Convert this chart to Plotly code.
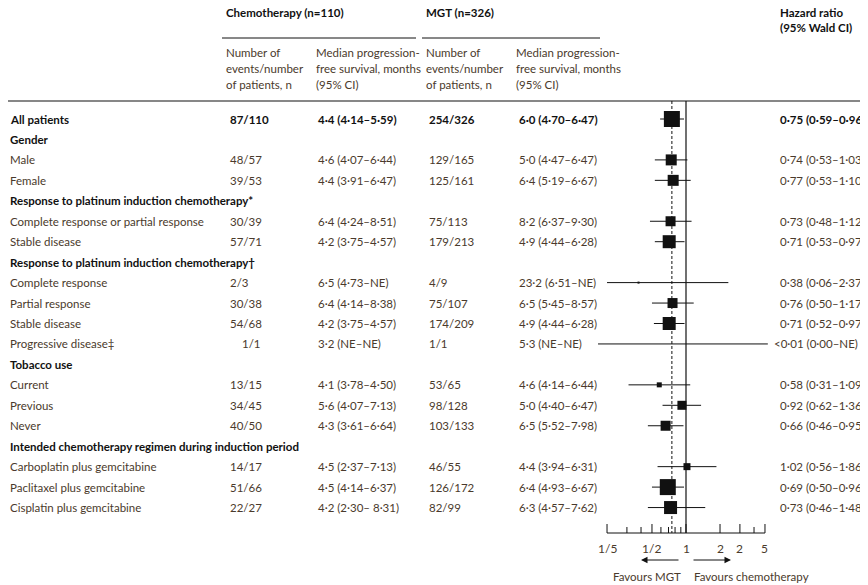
import math
import plotly.graph_objs as go

W, H = 868, 585
OFF = 8  # page body margin in the browser
FONT = 'Lato'
BODY = '#4a3a2c'

# table rows
labels = ['All patients', 'Gender', 'Male', 'Female',
          'Response to platinum induction chemotherapy*',
          'Complete response or partial response', 'Stable disease',
          'Response to platinum induction chemotherapy\u2020',
          'Complete response', 'Partial response', 'Stable disease', 'Progressive disease\u2021',
          'Tobacco use', 'Current', 'Previous', 'Never',
          'Intended chemotherapy regimen during induction period',
          'Carboplatin plus gemcitabine', 'Paclitaxel plus gemcitabine', 'Cisplatin plus gemcitabine']
bold_rows = [0, 1, 4, 7, 12, 16]
chemo_n = ['87/110', '', '48/57', '39/53', '', '30/39', '57/71', '', '2/3', '30/38', '54/68', '1/1',
           '', '13/15', '34/45', '40/50', '', '14/17', '51/66', '22/27']
chemo_pfs = ['4\u00b74 (4\u00b714\u20135\u00b759)', '', '4\u00b76 (4\u00b707\u20136\u00b744)',
             '4\u00b74 (3\u00b791\u20136\u00b747)', '', '6\u00b74 (4\u00b724\u20138\u00b751)',
             '4\u00b72 (3\u00b775\u20134\u00b757)', '', '6\u00b75 (4\u00b773\u2013NE)',
             '6\u00b74 (4\u00b714\u20138\u00b738)', '4\u00b72 (3\u00b775\u20134\u00b757)',
             '3\u00b72 (NE\u2013NE)', '', '4\u00b71 (3\u00b778\u20134\u00b750)',
             '5\u00b76 (4\u00b707\u20137\u00b713)', '4\u00b73 (3\u00b761\u20136\u00b764)', '',
             '4\u00b75 (2\u00b737\u20137\u00b713)', '4\u00b75 (4\u00b714\u20136\u00b737)',
             '4\u00b72 (2\u00b730\u2013 8\u00b731)']
mgt_n = ['254/326', '', '129/165', '125/161', '', '75/113', '179/213', '', '4/9', '75/107', '174/209',
         '1/1', '', '53/65', '98/128', '103/133', '', '46/55', '126/172', '82/99']
mgt_pfs = ['6\u00b70 (4\u00b770\u20136\u00b747)', '', '5\u00b70 (4\u00b747\u20136\u00b747)',
           '6\u00b74 (5\u00b719\u20136\u00b767)', '', '8\u00b72 (6\u00b737\u20139\u00b730)',
           '4\u00b79 (4\u00b744\u20136\u00b728)', '', '23\u00b72 (6\u00b751\u2013NE)',
           '6\u00b75 (5\u00b745\u20138\u00b757)', '4\u00b79 (4\u00b744\u20136\u00b728)',
           '5\u00b73 (NE\u2013NE)', '', '4\u00b76 (4\u00b714\u20136\u00b744)',
           '5\u00b70 (4\u00b740\u20136\u00b747)', '6\u00b75 (5\u00b752\u20137\u00b798)', '',
           '4\u00b74 (3\u00b794\u20136\u00b731)', '6\u00b74 (4\u00b793\u20136\u00b767)',
           '6\u00b73 (4\u00b757\u20137\u00b762)']
hr_text = ['0\u00b775 (0\u00b759\u20130\u00b796)', '', '0\u00b774 (0\u00b753\u20131\u00b703)',
           '0\u00b777 (0\u00b753\u20131\u00b710)', '', '0\u00b773 (0\u00b748\u20131\u00b712)',
           '0\u00b771 (0\u00b753\u20130\u00b797)', '', '0\u00b738 (0\u00b706\u20132\u00b737)',
           '0\u00b776 (0\u00b750\u20131\u00b717)', '0\u00b771 (0\u00b752\u20130\u00b797)',
           '<0\u00b701 (0\u00b700\u2013NE)', '', '0\u00b758 (0\u00b731\u20131\u00b709)',
           '0\u00b792 (0\u00b762\u20131\u00b736)', '0\u00b766 (0\u00b746\u20130\u00b795)', '',
           '1\u00b702 (0\u00b756\u20131\u00b786)', '0\u00b769 (0\u00b750\u20130\u00b796)',
           '0\u00b773 (0\u00b746\u20131\u00b748)']
hr = [0.75, None, 0.74, 0.77, None, 0.73, 0.71, None, 0.38, 0.76, 0.71, 0.005,
      None, 0.58, 0.92, 0.66, None, 1.02, 0.69, 0.73]
hr_lo = [0.59, None, 0.53, 0.53, None, 0.48, 0.53, None, 0.06, 0.50, 0.52, 0.001,
         None, 0.31, 0.62, 0.46, None, 0.56, 0.50, 0.46]
hr_hi = [0.96, None, 1.03, 1.10, None, 1.12, 0.97, None, 2.37, 1.17, 0.97, 1000,
         None, 1.09, 1.36, 0.95, None, 1.86, 0.96, 1.48]
box_size = [16, 0, 11, 11, 0, 10, 13, 0, 2, 10, 13, 0, 0, 5, 9, 10, 0, 7, 16, 13]

ticks = [0.2, 0.3, 0.4, 0.5, 0.6, 0.7, 0.8, 0.9, 1, 2, 3, 4, 5]
tick_labels = {0.2: '1/5', 0.5: '1/2', 1: '1', 2: '2', 3: '2', 5: '5'}

# layout helpers (pixel based)
row_y0, row_dy = 119, 20.45
X1, PXDEC = 686, 113.0  # pixel of HR=1, pixels per decade
CLIP_LO, CLIP_HI = 0.2, 5.3
HR_X = 778

def ry(i):
    return row_y0 + i * row_dy

fig = go.Figure()
ann = []

def txt(x, y, s, bold=False, color=BODY, size=11.5, anchor='left'):
    ann.append(dict(x=x, y=y, xref='x2', yref='y', text='<b>%s</b>' % s if bold else s,
                    showarrow=False, xanchor=anchor, yanchor='middle', align='left',
                    font=dict(family=FONT, size=size, color=color)))

# header
txt(224, 12, 'Chemotherapy (n=110)', bold=True, color='#111')
txt(424, 12, 'MGT (n=326)', bold=True, color='#111')
txt(HR_X, 12, 'Hazard ratio', bold=True, color='#111')
txt(HR_X, 27, '(95% Wald CI)', bold=True, color='#111')
for x, lines in [(224, ['Number of', 'events/number', 'of patients, n']),
                 (314, ['Median progression-', 'free survival, months', '(95% CI)']),
                 (424, ['Number of', 'events/number', 'of patients, n']),
                 (514, ['Median progression-', 'free survival, months', '(95% CI)'])]:
    for k, s in enumerate(lines):
        txt(x, 52 + k * 16, s)

for i, lab in enumerate(labels):
    b = i in bold_rows
    txt(8, ry(i), lab, bold=b, color='#111' if b else BODY)
    c = '#111' if i == 0 else BODY
    if chemo_n[i]:
        txt(240 if chemo_n[i] == '1/1' else 228, ry(i), chemo_n[i], bold=i == 0, color=c)
        txt(316, ry(i), chemo_pfs[i], bold=i == 0, color=c)
        txt(427, ry(i), mgt_n[i], bold=i == 0, color=c)
        txt(517, ry(i), mgt_pfs[i], bold=i == 0, color=c)
        txt(HR_X if not hr_text[i].startswith('<') else HR_X - 6, ry(i), hr_text[i],
            bold=i == 0, color=c)

def px(v):
    return X1 + PXDEC * math.log10(v)

shapes = []
def line(x0, y0, x1, y1, dash='solid', w=1):
    shapes.append(dict(type='line', xref='x2', yref='y', x0=x0, y0=y0, x1=x1, y1=y1,
                       layer='below', line=dict(color='#111', width=w, dash=dash)))

line(222, 38, 416, 38)
line(422, 38, 600, 38)
line(0, 101, W, 101, w=1.2)

# forest plot lines
line(px(1), 101, px(1), 533, w=1.2)
line(px(0.75), 101, px(0.75), 533, dash='3px,2px')
line(px(0.2), 533, px(5), 533)
for t in ticks:
    major = t in tick_labels
    line(px(t), 533, px(t), 524 if major else 527)
    if major:
        txt(px(t), 548, tick_labels[t], anchor='center', size=12)

# CI whiskers (clipped to the drawn axis)
for i in range(len(labels)):
    if hr[i] is None:
        continue
    lo, hi = max(hr_lo[i], CLIP_LO), min(hr_hi[i], CLIP_HI)
    line(px(lo) + (-9 if hr_lo[i] < 0.01 else 0), ry(i), px(hi), ry(i))

xs, ys, ss = [], [], []
for i in range(len(labels)):
    if hr[i] is not None and hr[i] >= CLIP_LO and box_size[i] > 0:
        xs.append(px(hr[i])); ys.append(ry(i)); ss.append(box_size[i])
fig.add_trace(go.Scatter(x=xs, y=ys, mode='markers', xaxis='x2', yaxis='y',
                         marker=dict(symbol='square', size=ss, color='#111111', opacity=1,
                                     line=dict(width=0)),
                         hoverinfo='skip', showlegend=False))

# favours arrows
for x0, x1 in [(680, 641), (692, 731)]:
    ann.append(dict(x=x1, y=560, ax=x0, ay=560, xref='x2', yref='y', axref='x2', ayref='y',
                    showarrow=True, arrowhead=2, arrowsize=1.3, arrowwidth=1, arrowcolor='#111', text=''))
txt(683, 576, 'Favours MGT', anchor='right', size=11.5)
txt(692, 576, 'Favours chemotherapy', size=11.5)

fig.update_layout(
    width=W - OFF, height=H - OFF, margin=dict(l=0, r=0, t=0, b=0),
    paper_bgcolor='white', plot_bgcolor='white',
    xaxis2=dict(range=[OFF, W], domain=[0, 1], visible=False, fixedrange=True),
    yaxis=dict(range=[H, OFF], domain=[0, 1], visible=False, fixedrange=True),
    annotations=ann, shapes=shapes, showlegend=False,
)
fig.write_html('out.html')
